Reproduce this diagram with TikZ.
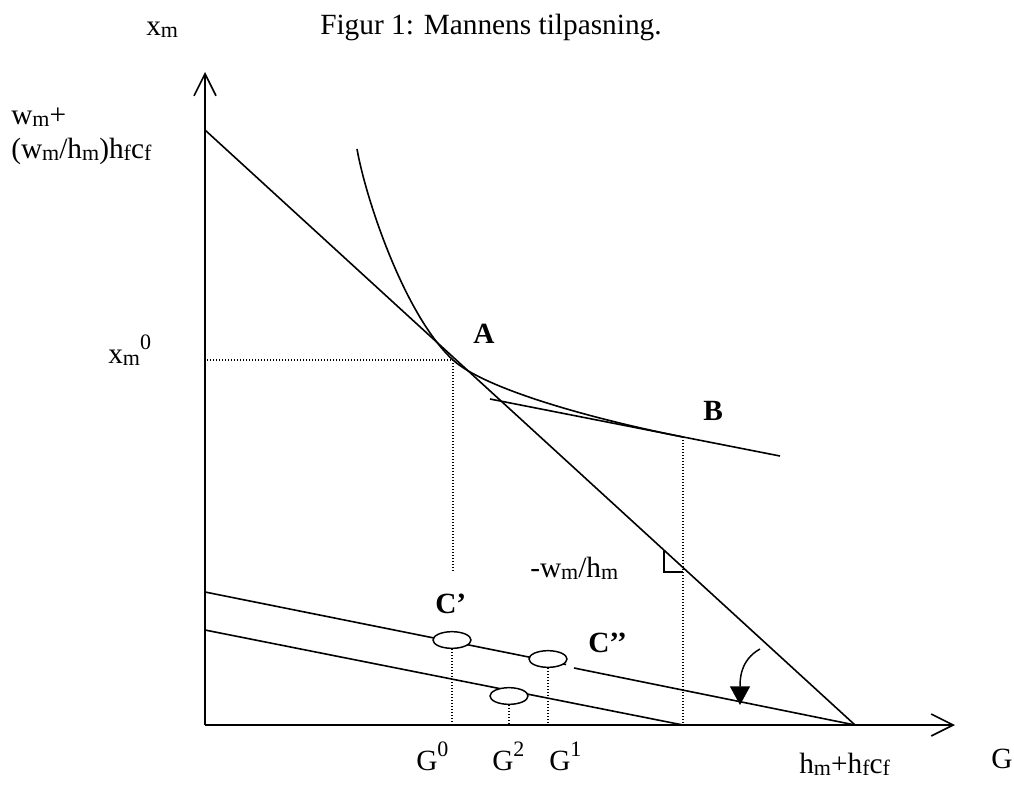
\documentclass[tikz,border=0pt]{standalone}
\usepackage{fontspec}
\setmainfont{Liberation Serif}
\usetikzlibrary{arrows.meta,shapes.geometric}
\newcommand\lo[1]{\raisebox{-0.1em}{\fontsize{16.5}{17}\selectfont #1}}
\newcommand\hi[1]{\raisebox{0.45em}{\fontsize{16.5}{17}\selectfont #1}}
\tikzset{
  lbl/.style={anchor=base west, inner sep=0pt, font=\fontsize{22}{26}\selectfont},
  solid line/.style={line width=1.2pt},
  axis/.style={line width=1.2pt, -{Straight Barb[length=16.5pt,width=16.5pt]}},
  dots/.style={line width=0.9pt, dash pattern=on 0.9pt off 1.35pt},
  bubble/.style={ellipse, draw, fill=white, line width=1.1pt, minimum width=28.5pt, minimum height=12.5pt, inner sep=0pt},
}
\begin{document}
\begin{tikzpicture}[x=0.75pt, y=-0.75pt]
\useasboundingbox (0,0) rectangle (1014,789);
% key points
\coordinate (O) at (205,725);
\coordinate (Ytop) at (205,72);
\coordinate (Xend) at (955,725);
\coordinate (P) at (205,130);
\coordinate (H) at (855,725);
\coordinate (A) at (453,360);
\coordinate (Ay) at (207,360);
\coordinate (A0) at (453,572);
\coordinate (B) at (683,437);
\coordinate (BG) at (683,725);
\coordinate (Tl) at (490,399);
\coordinate (Tr) at (780,456);
\coordinate (Ctop) at (357,149);
\coordinate (C1s) at (205,592);
\coordinate (Cgl) at (566,664.5);
\coordinate (Cg) at (574,668);
\coordinate (C2s) at (205,630);
\coordinate (Ks) at (760,649);
\coordinate (Ke) at (740,705);
\coordinate (R1) at (664,551);
\coordinate (R2) at (664,572);
\coordinate (R3) at (683,572);
% axes
\draw[axis] (O) -- (Ytop);
\draw[axis] (O) -- (Xend);
% budget line
\draw[solid line] (P) -- (H);
% indifference curve
\draw[solid line] (Ctop) .. controls (366,200) and (405,316) .. (A)
                         .. controls (483,387.5) and (583,417) .. (B);
% tangent at B
\draw[solid line] (Tl) -- (Tr);
% dotted guides
\draw[dots] (Ay) -- (A);
\draw[dots] (A) -- (A0);
\draw[dots] (B) -- (BG);
% right angle mark
\draw[line width=1.1pt] (R1) -- (R2) -- (R3);
% lower lines
\draw[solid line] (C2s) -- (BG);
\draw[solid line] (C1s) -- (Cgl);
\draw[solid line] (Cg) -- (H);
\node[bubble] (Cp) at (452,640) {};
\node[bubble] (Cpp) at (548,659) {};
\node[bubble] (Ce) at (509,696) {};
\draw[dots] (Cp.south) -- (Cp.south |- O);
\draw[dots] (Cpp.south) -- (Cpp.south |- O);
\draw[dots] (Ce.south) -- (Ce.south |- O);
% curved arrow
\draw[line width=1.1pt, -{Triangle[length=14pt,width=15pt]}] (Ks) .. controls (740,660) and (740,680) .. (Ke);
% labels
\node[lbl] (lxm) at (146,35) {x\lo{m}};
\node[lbl] (ltitle) at (320,34) {Figur 1: Mannens tilpasning.};
\node[lbl] (lint1) at (11,124) {w\lo{m}+};
\node[lbl] (lint2) at (11,158) {(w\lo{m}/h\lo{m})h\lo{f}c\lo{f}};
\node[lbl] (lxm0) at (108,363) {x\lo{m}\hi{0}};
\node[lbl, font=\fontsize{22}{26}\selectfont\bfseries] (lA) at (473,343) {A};
\node[lbl, font=\fontsize{22}{26}\selectfont\bfseries] (lB) at (703,420) {B};
\node[lbl] (lslope) at (530,577) {-w\lo{m}/h\lo{m}};
\node[lbl, font=\fontsize{22}{26}\selectfont\bfseries] (lCp) at (435,613) {C’};
\node[lbl, font=\fontsize{22}{26}\selectfont\bfseries] (lCpp) at (588,652) {C’’};
\node[lbl] (lG0) at (416,770) {G\hi{0}};
\node[lbl] (lG2) at (492,770) {G\hi{2}};
\node[lbl] (lG1) at (549,770) {G\hi{1}};
\node[lbl] (lH) at (799,773) {h\lo{m}+h\lo{f}c\lo{f}};
\node[lbl] (lG) at (991,768) {G};
\end{tikzpicture}
\end{document}
